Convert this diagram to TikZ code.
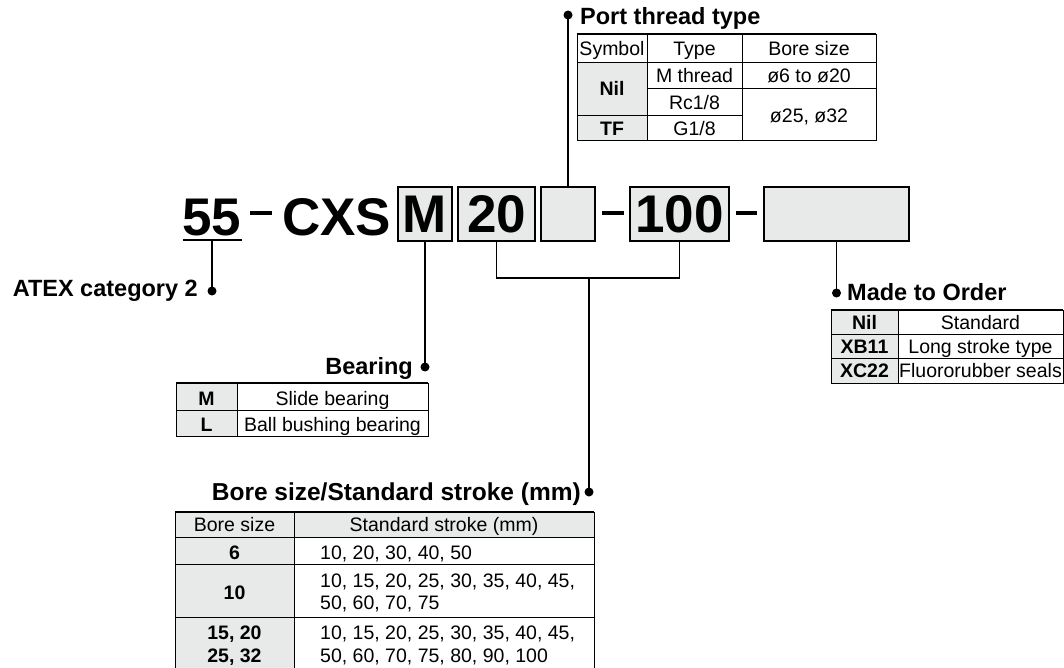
\documentclass[tikz,border=0pt]{standalone}
\usepackage{fontspec}
\setmainfont{Liberation Sans}
\definecolor{cellgray}{HTML}{E8E9E9}

\begin{document}
\begin{tikzpicture}[x=1pt, y=-1pt,
    code/.style={font=\fontsize{53}{60}\selectfont\bfseries, inner sep=0pt},
    codebox/.style={draw, line width=1.8pt, fill=cellgray, inner sep=0pt, minimum height=54pt, font=\fontsize{53}{60}\selectfont\bfseries},
    lead/.style={line width=1.8pt},
    title/.style={font=\fontsize{23.5}{28}\selectfont\bfseries, inner sep=0pt},
    cell/.style={font=\fontsize{19.5}{22}\selectfont, inner sep=0pt, anchor=base},
    bcell/.style={cell, font=\fontsize{19.5}{22}\selectfont\bfseries},
    grid/.style={line width=0.8pt},
    topline/.style={line width=1.6pt}]
    \useasboundingbox (0,0) rectangle (1064,668);

    % model code
    \node[code, anchor=base] (n55) at (212,235) {55};
    \node[code, anchor=base] (cxs) at (336.5,235) {CXS};
    \node[codebox, minimum width=54pt] (bm) at (425,214) {M};
    \node[codebox, minimum width=77pt] (b20) at (496.5,214) {20};
    \node[codebox, minimum width=54pt] (bport) at (568,214) {};
    \node[codebox, minimum width=99pt] (b100) at (679.5,214) {100};
    \node[codebox, minimum width=145pt] (bmto) at (836.5,214) {};
    \draw[line width=3.2pt] (250,213) -- (272,213);
    \draw[line width=3.2pt] (602,213) -- (624,213);
    \draw[line width=3.2pt] (736,213) -- (757,213);
    \draw[lead] (183,240) -- (242,240);

    % leaders
    \coordinate (u55) at (212,240);
    \coordinate (atexdot) at (212,291);
    \coordinate (bdot) at (425,367);
    \coordinate (brk) at (589,278);
    \coordinate (boredot) at (589,492);
    \coordinate (portdot) at (568,15);
    \coordinate (mtodot) at (836.5,293);
    \draw[lead] (u55) -- (atexdot);
    \draw[lead] (bm.south) -- (bdot);
    \draw[lead] (b20.south) |- (brk) -| (b100.south);
    \draw[lead] (brk) -- (boredot);
    \draw[lead] (bport.north) -- (portdot);
    \draw[lead] (bmto.south) -- (mtodot);
    \foreach \d in {atexdot, bdot, boredot, portdot, mtodot}
        \fill (\d) circle (4.5pt);

    \node[title, anchor=base east] (atex) at (198,296) {ATEX category 2};
    \node[title, anchor=base east] (bear) at (413,374) {Bearing};
    \node[title, anchor=base east, font=\fontsize{24.5}{28}\selectfont\bfseries] (bore) at (581,500) {Bore size/Standard stroke (mm)};
    \node[title, anchor=base west] (port) at (580,25) {Port thread type};
    \node[title, anchor=base west] (mto) at (847,300) {Made to Order};

    % port thread type table
    \fill[cellgray] (577,62) rectangle (647,140);
    \draw[grid] (577,34) rectangle (876,140);
    \draw[topline] (577,34) -- (876,34);
    \draw[grid] (577,62) -- (876,62);
    \draw[grid] (647,88.5) -- (876,88.5);
    \draw[grid] (577,115) -- (742,115);
    \draw[grid] (647,34) -- (647,140);
    \draw[grid] (742,34) -- (742,140);
    \node[cell] (psym) at (612,55.5) {Symbol};
    \node[cell] (ptype) at (694.5,55.5) {Type};
    \node[cell] (pbore) at (809,55.5) {Bore size};
    \node[bcell] (pnil) at (612,96) {Nil};
    \node[bcell] (ptf) at (612,136) {TF};
    \node[cell] (pm) at (694.5,83) {M thread};
    \node[cell] (prc) at (694.5,110) {Rc1/8};
    \node[cell] (pg) at (694.5,136) {G1/8};
    \node[cell] (psmall) at (809,83) {ø6 to ø20};
    \node[cell] (plarge) at (809,123) {ø25, ø32};

    % made to order table
    \fill[cellgray] (831,310) rectangle (898,383);
    \draw[grid] (831,310) rectangle (1063,383);
    \draw[topline] (831,310) -- (1063,310);
    \draw[grid] (831,334) -- (1063,334);
    \draw[grid] (831,358) -- (1063,358);
    \draw[grid] (898,310) -- (898,383);
    \node[bcell] (mnil) at (864.5,329) {Nil};
    \node[bcell] (mxb) at (864.5,353) {XB11};
    \node[bcell] (mxc) at (864.5,377) {XC22};
    \node[cell] (mstd) at (980.5,329) {Standard};
    \node[cell] (mlong) at (980.5,353) {Long stroke type};
    \node[cell] (mfluo) at (980.5,377) {Fluororubber seals};

    % bearing table
    \fill[cellgray] (176,383) rectangle (237,436);
    \draw[grid] (176,383) rectangle (428,436);
    \draw[topline] (176,383) -- (428,383);
    \draw[grid] (176,410) -- (428,410);
    \draw[grid] (237,383) -- (237,436);
    \node[bcell] (bmm) at (206.5,405) {M};
    \node[bcell] (bll) at (206.5,431.5) {L};
    \node[cell] (bslide) at (332.5,405) {Slide bearing};
    \node[cell] (bball) at (332.5,431.5) {Ball bushing bearing};

    % bore size / stroke table
    \fill[cellgray] (175,512) rectangle (594,537);
    \fill[cellgray] (175,537) rectangle (294,672);
    \draw[grid] (175,512) rectangle (594,672);
    \draw[topline] (175,512) -- (594,512);
    \draw[grid] (175,537) -- (594,537);
    \draw[grid] (175,564) -- (594,564);
    \draw[grid] (175,617) -- (594,617);
    \draw[grid] (294,512) -- (294,672);
    \node[cell] (hbore) at (234.5,531.5) {Bore size};
    \node[cell] (hstroke) at (444,531.5) {Standard stroke (mm)};
    \node[bcell] (s6) at (234.5,559) {6};
    \node[bcell] (s10) at (234.5,599) {10};
    \node[bcell] (s15) at (234.5,639) {15, 20};
    \node[bcell] (s25) at (234.5,662) {25, 32};
    \node[cell, anchor=base west] (t6) at (320,559) {10, 20, 30, 40, 50};
    \node[cell, anchor=base west] (t10a) at (320,587) {10, 15, 20, 25, 30, 35, 40, 45,};
    \node[cell, anchor=base west] (t10b) at (320,609) {50, 60, 70, 75};
    \node[cell, anchor=base west] (t15a) at (320,639) {10, 15, 20, 25, 30, 35, 40, 45,};
    \node[cell, anchor=base west] (t15b) at (320,662) {50, 60, 70, 75, 80, 90, 100};
\end{tikzpicture}
\end{document}
